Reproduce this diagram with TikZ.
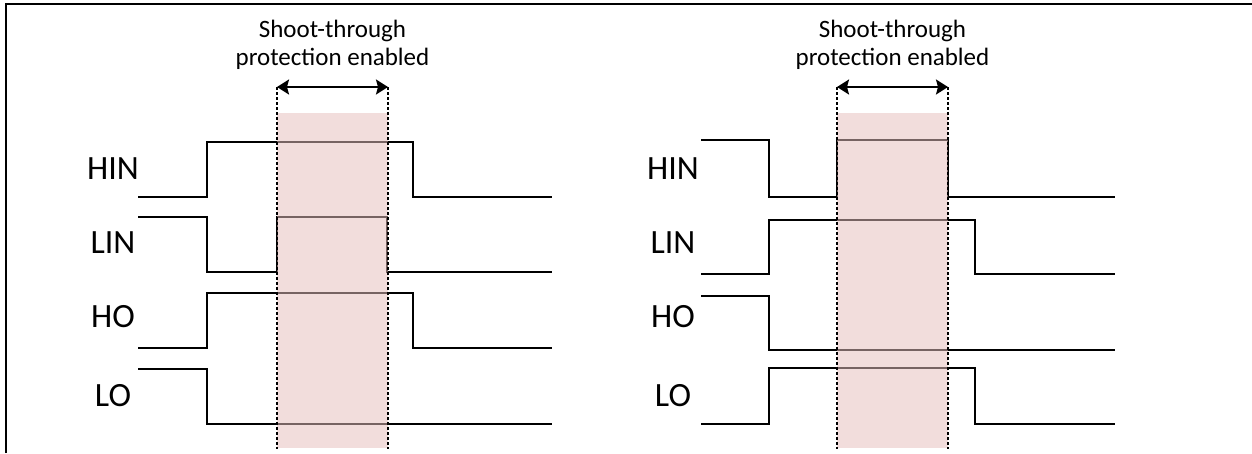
\documentclass[tikz,border=0pt]{standalone}
\usepackage{fontspec}
\setmainfont{Carlito}
\usetikzlibrary{arrows.meta}
\definecolor{zonepink}{RGB}{230,190,188}
\tikzset{
	sig/.style={line width=1.9pt, line join=miter},
	lbl/.style={font=\fontsize{34}{40}\selectfont, inner sep=0pt},
	note/.style={font=\fontsize{25}{28}\selectfont, align=center, inner sep=0pt},
	edge/.style={line width=1.1pt, dash pattern=on 3pt off 2pt},
	zone/.style={fill=zonepink, fill opacity=0.52}
}
\begin{document}
\begin{tikzpicture}[>={Stealth[length=12pt,width=15pt,inset=2pt]}, x=1pt, y=-1pt]
			\useasboundingbox (0,0) rectangle (1252,453);
			\def\window[#1](#2,#3){
				\fill[zone] (#2,113) rectangle (#3,448);
				\draw[edge] (#2,87) -- (#2,449);
				\draw[edge] (#3,87) -- (#3,449);
				\coordinate (#1a) at (#2,87);
				\coordinate (#1b) at (#3,87);
				\draw[<->, line width=1.9pt] (#1a) -- (#1b);
				\node[note] (#1txt) at ({(#2+#3)/2},45) {Shoot-through\\protection enabled};}
			% frame
			\draw[line width=2.6pt] (6,453) -- (6,4) -- (1252,4);
			% labels
			\foreach \t/\y in {HIN/169,LIN/243,HO/317,LO/396}{
				\node[lbl] (l\t) at (113,\y) {\t};
				\node[lbl] (r\t) at (673,\y) {\t};}
			% left waveforms
			\draw[sig] (138,197) -- (207,197) -- (207,142) -- (413,142) -- (413,197) -- (552,197);
			\draw[sig] (138,217) -- (207,217) -- (207,272) -- (277,272) -- (277,217) -- (387,217) -- (387,272) -- (552,272);
			\draw[sig] (138,348) -- (207,348) -- (207,293) -- (413,293) -- (413,348) -- (552,348);
			\draw[sig] (138,369) -- (207,369) -- (207,424) -- (552,424);
			% right waveforms
			\draw[sig] (701,140) -- (769,140) -- (769,197) -- (837,197) -- (837,140) -- (948,140) -- (948,197) -- (1115,197);
			\draw[sig] (701,274) -- (769,274) -- (769,220) -- (975,220) -- (975,274) -- (1115,274);
			\draw[sig] (701,296) -- (769,296) -- (769,350) -- (1115,350);
			\draw[sig] (701,424) -- (769,424) -- (769,368) -- (975,368) -- (975,424) -- (1115,424);
			\window[pl](277,388)
			\window[pr](837,948)
		\end{tikzpicture}
\end{document}
